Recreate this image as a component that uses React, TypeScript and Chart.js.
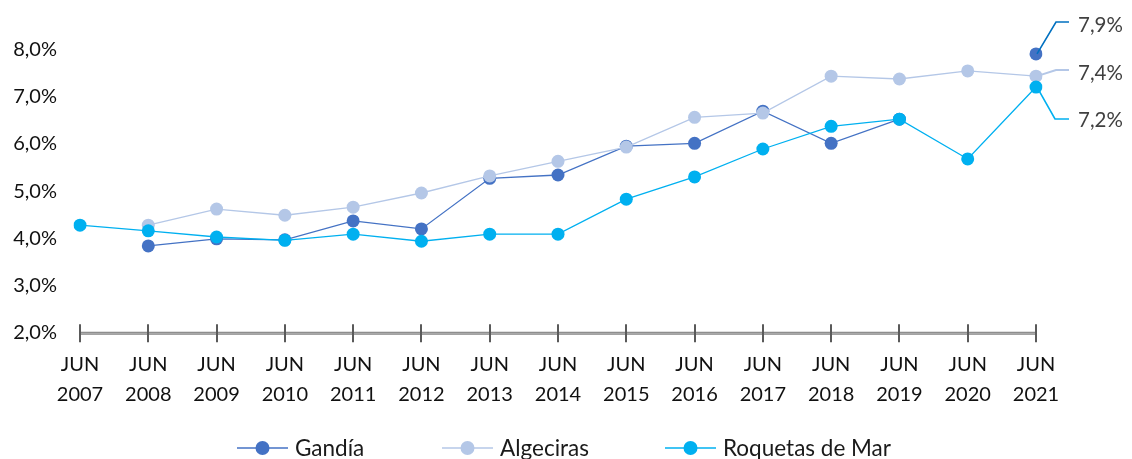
import React, { useEffect, useRef } from "react";
import { Chart, registerables } from "chart.js";

Chart.register(...registerables);

// ---- Data ----
const years = ["2007", "2008", "2009", "2010", "2011", "2012", "2013", "2014", "2015", "2016", "2017", "2018", "2019", "2020", "2021"];
const monthLabel = "JUN";
const seriesNames = ["Gandía", "Algeciras", "Roquetas de Mar"];
const gandia = [null, 3.84, 3.99, 3.97, 4.37, 4.2, 5.27, 5.34, 5.95, 6.01, 6.69, 6.01, 6.52, null, 7.9];
const algeciras = [null, 4.28, 4.62, 4.49, 4.66, 4.96, 5.32, 5.63, 5.93, 6.56, 6.65, 7.43, 7.37, 7.54, 7.43];
const roquetas = [4.28, 4.16, 4.03, 3.96, 4.09, 3.94, 4.09, 4.09, 4.83, 5.3, 5.89, 6.37, 6.52, 5.68, 7.2];
const yTickValues = [2, 3, 4, 5, 6, 7, 8];

// ---- Styles ----
const FONT = "Lato";
const colors = ["#4472C4", "#B4C7E7", "#00B0F0"];
const leaderColors = ["#0070C0", "#B4C7E7", "#00B0F0"];

const fmt = (v: number) => v.toFixed(1).replace(".", ",") + "%";

const overlayPlugin = {
  id: "overlay",
  beforeDatasetsDraw(chart: any) {
    const ctx = chart.ctx;
    const x = chart.scales.x;
    const area = chart.chartArea;
    const yb = area.bottom + 0.3;
    ctx.save();
    // axis line (double style)
    ctx.strokeStyle = "#858585";
    ctx.lineWidth = 3;
    ctx.beginPath();
    ctx.moveTo(area.left, yb);
    ctx.lineTo(area.right, yb);
    ctx.stroke();
    ctx.strokeStyle = "#b3b3b3";
    ctx.lineWidth = 1;
    ctx.beginPath();
    ctx.moveTo(area.left, yb);
    ctx.lineTo(area.right, yb);
    ctx.stroke();
    // tick marks crossing the axis
    ctx.strokeStyle = "#5a5a5a";
    ctx.lineWidth = 2;
    for (let i = 0; i < years.length; i++) {
      const px = Math.round(x.getPixelForValue(i));
      ctx.beginPath();
      ctx.moveTo(px, yb - 9);
      ctx.lineTo(px, yb + 9);
      ctx.stroke();
    }
    ctx.restore();
  },
  afterDatasetsDraw(chart: any) {
    const ctx = chart.ctx;
    const x = chart.scales.x;
    const y = chart.scales.y;
    const last = years.length - 1;
    const lastVals = [gandia[last], algeciras[last], roquetas[last]] as number[];
    const labelY = [25, 73, 120];
    const elbowY = [22, 70, 119];
    const elbowX = [1056, 1056, 1055];
    ctx.save();
    for (let i = 0; i < 3; i++) {
      const px = x.getPixelForValue(last);
      const py = y.getPixelForValue(lastVals[i]);
      ctx.strokeStyle = leaderColors[i];
      ctx.lineWidth = i === 1 ? 2 : 1.6;
      ctx.beginPath();
      ctx.moveTo(px + 1, py);
      ctx.lineTo(elbowX[i], elbowY[i]);
      ctx.lineTo(1069, elbowY[i]);
      ctx.stroke();
      ctx.fillStyle = "#404040";
      ctx.font = `20.5px ${FONT}`;
      ctx.textAlign = "left";
      ctx.textBaseline = "middle";
      ctx.fillText(fmt(lastVals[i]), 1078, labelY[i]);
    }
    // legend
    const legendX = [237, 442, 665];
    const legendY = 448;
    for (let i = 0; i < 3; i++) {
      const lx = legendX[i];
      ctx.strokeStyle = colors[i];
      ctx.lineWidth = 1.5;
      ctx.beginPath();
      ctx.moveTo(lx, legendY);
      ctx.lineTo(lx + 51, legendY);
      ctx.stroke();
      ctx.fillStyle = colors[i];
      ctx.beginPath();
      ctx.arc(lx + 25.5, legendY, 7, 0, Math.PI * 2);
      ctx.fill();
      ctx.fillStyle = "#1a1a1a";
      ctx.font = `22.5px ${FONT}`;
      ctx.textAlign = "left";
      ctx.textBaseline = "alphabetic";
      ctx.fillText(seriesNames[i], lx + 58, 456);
    }
    ctx.restore();
  },
};

export default function App() {
  const ref = useRef<HTMLCanvasElement | null>(null);
  useEffect(() => {
    if (!ref.current) return;
    const mk = (label: string, data: (number | null)[], color: string, order: number) => ({
      label,
      data,
      borderColor: color,
      backgroundColor: color,
      borderWidth: 1.3,
      pointRadius: 6.5,
      pointHoverRadius: 6.5,
      pointBorderWidth: 0,
      pointBackgroundColor: color,
      spanGaps: false,
      tension: 0,
      order,
    });
    const chart = new Chart(ref.current, {
      type: "line",
      data: {
        labels: years.map((yr) => [monthLabel, yr]),
        datasets: [
          mk(seriesNames[0], gandia, colors[0], 3),
          mk(seriesNames[1], algeciras, colors[1], 2),
          mk(seriesNames[2], roquetas, colors[2], 1),
        ],
      },
      options: {
        responsive: false,
        animation: false,
        devicePixelRatio: 1,
        layout: { padding: { top: 9, right: 96, left: 0, bottom: 0 } },
        plugins: { legend: { display: false }, tooltip: { enabled: false } },
        scales: {
          x: {
            offset: false,
            grid: { display: false, drawTicks: false },
            border: { display: false },
            ticks: {
              color: "#111",
              font: { family: FONT, size: 20, lineHeight: "30px" } as any,
              padding: 17,
              maxRotation: 0,
              autoSkip: false,
            },
            afterFit: (s: any) => {
              s.height = 126;
              s.paddingLeft = 0;
              s.paddingRight = 0;
            },
          },
          y: {
            min: 2,
            max: 8.85,
            grid: { display: false, drawTicks: false },
            border: { display: false },
            afterBuildTicks: (s: any) => {
              s.ticks = yTickValues.map((v) => ({ value: v }));
            },
            ticks: {
              color: "#111",
              font: { family: FONT, size: 20 },
              padding: 23,
              callback: (v: any) => fmt(Number(v)),
            },
            afterFit: (s: any) => {
              s.width = 80;
              s.paddingTop = 0;
              s.paddingBottom = 0;
            },
          },
        },
      },
      plugins: [overlayPlugin],
    });
    return () => chart.destroy();
  }, []);
  return (
    <div style={{ position: "fixed", left: 0, top: 0, width: 1132, height: 459, background: "#fff" }}>
      <canvas ref={ref} width={1132} height={459} style={{ display: "block", width: 1132, height: 459 }} />
    </div>
  );
}
